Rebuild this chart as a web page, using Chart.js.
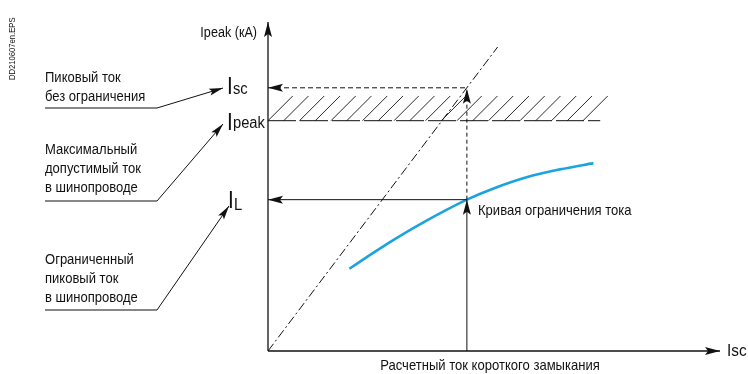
<!DOCTYPE html>
<html>
<head>
<meta charset="utf-8">
<script src="https://cdn.jsdelivr.net/npm/chart.js@4/dist/chart.umd.min.js"></script>
<style>
  body { margin: 0; background: #fff; }
</style>
</head>
<body>
<canvas id="chart" width="748" height="374"></canvas>
<script>
// axis range (arbitrary units)
const axisMax = 100;
// current levels on the Ipeak axis: Isc, Ipeak, IL
const levelNames = ['sc', 'peak', 'L'];
const levelValues = [80, 70, 46];
// prospective short-circuit current on the x axis
const prospectiveIsc = 44;
// unlimited peak current (dash-dot line)
const unlimitedX = [0, 50.8];
const unlimitedY = [0, 92.4];
// current limiting curve
const curveX = [18, 22.6, 27.7, 33.6, 44, 49.9, 57.2, 64.6, 72];
const curveY = [25, 29.2, 33.7, 38.5, 46, 49.4, 52.8, 55.2, 57.1];
// hatched zone above Ipeak
const hatchEndX = 73.5;
const hatchTopY = 77.5;

const FONT = '"Liberation Sans", Arial, sans-serif';
const INK = '#111';

function pts(xs, ys) {
  return xs.map((x, i) => ({ x: x, y: ys[i] }));
}

function line(data, opts) {
  return Object.assign({
    data: data,
    showLine: true,
    borderColor: INK,
    borderWidth: 1,
    pointRadius: 0,
    fill: false,
    clip: false
  }, opts || {});
}

const isc = levelValues[0], ipeak = levelValues[1], il = levelValues[2];

function arrowHead(ctx, x, y, ang, len, w) {
  ctx.save();
  ctx.translate(x, y);
  ctx.rotate(ang);
  ctx.beginPath();
  ctx.moveTo(0, 0);
  ctx.lineTo(-len, -w / 2);
  ctx.lineTo(-len * 0.8, 0);
  ctx.lineTo(-len, w / 2);
  ctx.closePath();
  ctx.fillStyle = INK;
  ctx.fill();
  ctx.restore();
}

function txt(ctx, s, x, y, size, align, sx, base) {
  ctx.save();
  ctx.font = size + 'px ' + FONT;
  ctx.textAlign = align || 'left';
  ctx.textBaseline = base || 'middle';
  ctx.fillStyle = INK;
  ctx.translate(x, y);
  ctx.scale(sx || 0.88, 1);
  ctx.fillText(s, 0, 0);
  ctx.restore();
}

// hatching between Ipeak and the hatch top
const hatchPlugin = {
  id: 'hatch',
  beforeDatasetsDraw(chart) {
    const ctx = chart.ctx, xs = chart.scales.x, ys = chart.scales.y;
    const y0 = ys.getPixelForValue(ipeak), y1 = ys.getPixelForValue(hatchTopY);
    const x0 = xs.getPixelForValue(0), x1 = xs.getPixelForValue(hatchEndX);
    const h = y0 - y1;
    ctx.save();
    ctx.strokeStyle = INK;
    ctx.lineWidth = 0.9;
    for (let x = x0; x <= x1 - 14; x += 15.75) {
      ctx.beginPath();
      ctx.moveTo(x, y0);
      ctx.lineTo(x + h, y1);
      ctx.stroke();
    }
    ctx.restore();
  }
};

// arrowheads at the ends of the lines
const arrowPlugin = {
  id: 'arrows',
  afterDatasetsDraw(chart) {
    const ctx = chart.ctx, xs = chart.scales.x, ys = chart.scales.y;
    const px = v => xs.getPixelForValue(v), py = v => ys.getPixelForValue(v);
    arrowHead(ctx, px(0), py(axisMax), -Math.PI / 2, 15, 8);
    arrowHead(ctx, px(axisMax), py(0), 0, 15, 8);
    arrowHead(ctx, px(0), py(isc), Math.PI, 15, 8);
    arrowHead(ctx, px(0), py(il), Math.PI, 15, 8);
    arrowHead(ctx, px(prospectiveIsc), py(il), -Math.PI / 2, 15, 8);
    arrowHead(ctx, px(prospectiveIsc), py(isc) + 1, -Math.PI / 2, 15, 8);
  }
};

// texts and the leader lines on the left
const textPlugin = {
  id: 'texts',
  afterDraw(chart) {
    const ctx = chart.ctx, ys = chart.scales.y;
    const py = v => ys.getPixelForValue(v);

    txt(ctx, 'Ipeak (кА)', 257, 33, 14, 'right', 0.9);
    txt(ctx, 'Isc', 727, 351, 17, 'left', 0.9);
    txt(ctx, 'Кривая ограничения тока', 478, 211, 15, 'left', 0.87);
    txt(ctx, 'Расчетный ток короткого замыкания', 490, 366, 15, 'center', 0.87);

    // level labels
    const big = [[227, py(isc) + 6], [227, py(ipeak) + 9], [228, py(il) + 8]];
    const sub = [[233, py(isc) + 6], [233, py(ipeak) + 7], [234, py(il) + 10]];
    levelNames.forEach((n, i) => {
      txt(ctx, 'I', big[i][0], big[i][1], 23, 'left', 0.9, 'alphabetic');
      txt(ctx, n, sub[i][0], sub[i][1], 16, 'left', 0.92, 'alphabetic');
    });

    // left notes
    const notes = [
      [['Пиковый ток', 'без ограничения'], 78, 108, [223, 88]],
      [['Максимальный', 'допустимый ток', 'в шинопроводе'], 150, 201, [223, 124]],
      [['Ограниченный', 'пиковый ток', 'в шинопроводе'], 260, 310, [229, 206]]
    ];
    notes.forEach(n => {
      n[0].forEach((s, i) => txt(ctx, s, 45, n[1] + i * 19, 14, 'left', 0.93));
      const ul = n[2], tip = n[3];
      ctx.save();
      ctx.strokeStyle = INK;
      ctx.lineWidth = 1;
      ctx.beginPath();
      ctx.moveTo(45, ul);
      ctx.lineTo(157, ul);
      ctx.lineTo(tip[0], tip[1]);
      ctx.stroke();
      ctx.restore();
      arrowHead(ctx, tip[0], tip[1], Math.atan2(tip[1] - ul, tip[0] - 157), 14, 7);
    });

    // file tag
    ctx.save();
    ctx.translate(13, 80);
    ctx.rotate(-Math.PI / 2);
    txt(ctx, 'DD210607en.EPS', 0, 0, 9, 'left', 0.85);
    ctx.restore();
  }
};

new Chart(document.getElementById('chart').getContext('2d'), {
  type: 'scatter',
  plugins: [hatchPlugin, arrowPlugin, textPlugin],
  data: {
    datasets: [
      line(pts([0, 0], [0, axisMax]), { borderWidth: 1.3 }),
      line(pts([0, axisMax], [0, 0]), { borderWidth: 1.3 }),
      line(pts(unlimitedX, unlimitedY), { borderDash: [9, 3, 2, 3] }),
      line(pts([0, prospectiveIsc], [isc, isc]), { borderDash: [5, 3] }),
      line(pts([0, hatchEndX], [ipeak, ipeak]), { borderDash: [28, 4] }),
      line(pts([0, prospectiveIsc], [il, il])),
      line(pts([prospectiveIsc, prospectiveIsc], [0, il])),
      line(pts([prospectiveIsc, prospectiveIsc], [il, isc]), { borderDash: [4, 3] }),
      line(pts(curveX, curveY), {
        borderColor: '#1ba3e0',
        borderWidth: 2.6,
        cubicInterpolationMode: 'monotone'
      })
    ]
  },
  options: {
    responsive: false,
    animation: false,
    layout: { padding: { left: 268, right: 28, top: 22, bottom: 23 } },
    plugins: { legend: { display: false }, tooltip: { enabled: false } },
    scales: {
      x: { type: 'linear', min: 0, max: axisMax, display: false },
      y: { type: 'linear', min: 0, max: axisMax, display: false }
    }
  }
});
</script>
</body>
</html>
